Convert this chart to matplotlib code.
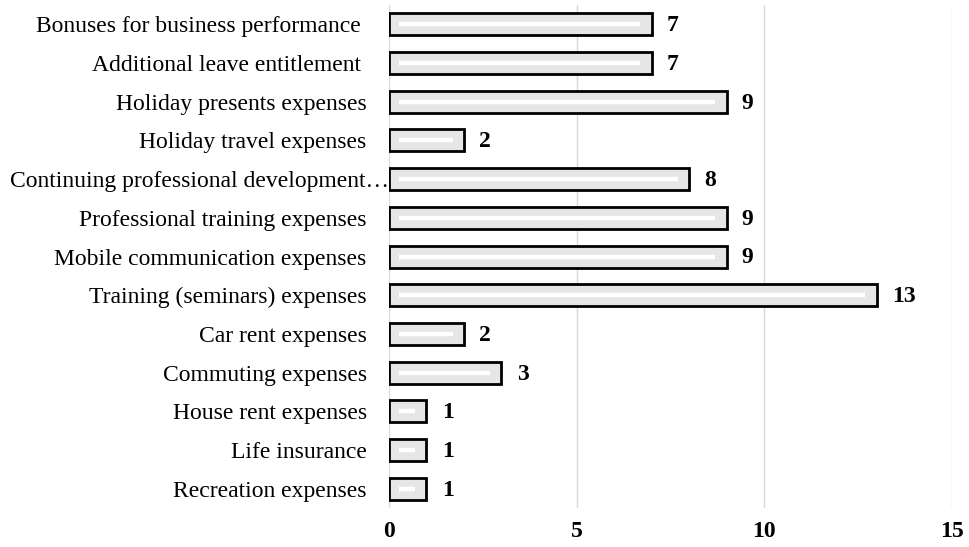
import matplotlib
matplotlib.use("Agg")
import matplotlib.pyplot as plt
from matplotlib.transforms import ScaledTranslation

categories = [
    "Recreation expenses",
    "Life insurance",
    "House rent expenses",
    "Commuting expenses",
    "Car rent expenses",
    "Training (seminars) expenses",
    "Mobile communication expenses",
    "Professional training expenses",
    "Continuing professional development\u2026",
    "Holiday travel expenses",
    "Holiday presents expenses",
    "Additional leave entitlement ",
    "Bonuses for business performance ",
]
values = [1, 1, 1, 3, 2, 13, 9, 9, 8, 2, 9, 7, 7]
xticks = [0, 5, 10, 15]

plt.rcParams['font.family'] = ['Liberation Serif', 'DejaVu Serif']

fig = plt.figure(figsize=(9.7, 5.47), dpi=100)
ax = fig.add_axes([0.401, 0.071, 0.580, 0.920])

y = list(range(len(categories)))
ax.barh(y, values, height=0.57, color='#e6e6e6', edgecolor='black', linewidth=2, zorder=3)

# inner white highlight line
inset = 0.27
for yi, v in zip(y, values):
    ax.plot([inset, v - inset * 1.1], [yi, yi], color='white', linewidth=3.2,
            solid_capstyle='butt', zorder=4)

for yi, v in zip(y, values):
    ax.annotate(str(v), xy=(v, yi), xytext=(11, -1), textcoords='offset points',
                ha='left', va='center', fontsize=17, fontweight='bold', color='black')

ax.set_xlim(0, 15)
ax.set_ylim(-0.5, len(categories) - 0.5)
ax.set_xticks(xticks)
ax.set_xticklabels([str(t) for t in xticks], fontsize=17, fontweight='bold')
ax.set_yticks(y)
ax.set_yticklabels(categories, fontsize=17)
ax.tick_params(axis='x', length=0, pad=9)
ax.tick_params(axis='y', length=0, pad=16)
for s in ax.spines.values():
    s.set_visible(False)
ax.xaxis.grid(True, color='#d9d9d9', linewidth=1, zorder=0)
ax.set_axisbelow(True)

# overflowing truncated label shifted right like in reference
lbl = ax.get_yticklabels()[8]
lbl.set_transform(lbl.get_transform() + ScaledTranslation(16 / 72, 0, fig.dpi_scale_trans))

fig.savefig("out.png", dpi=100)
